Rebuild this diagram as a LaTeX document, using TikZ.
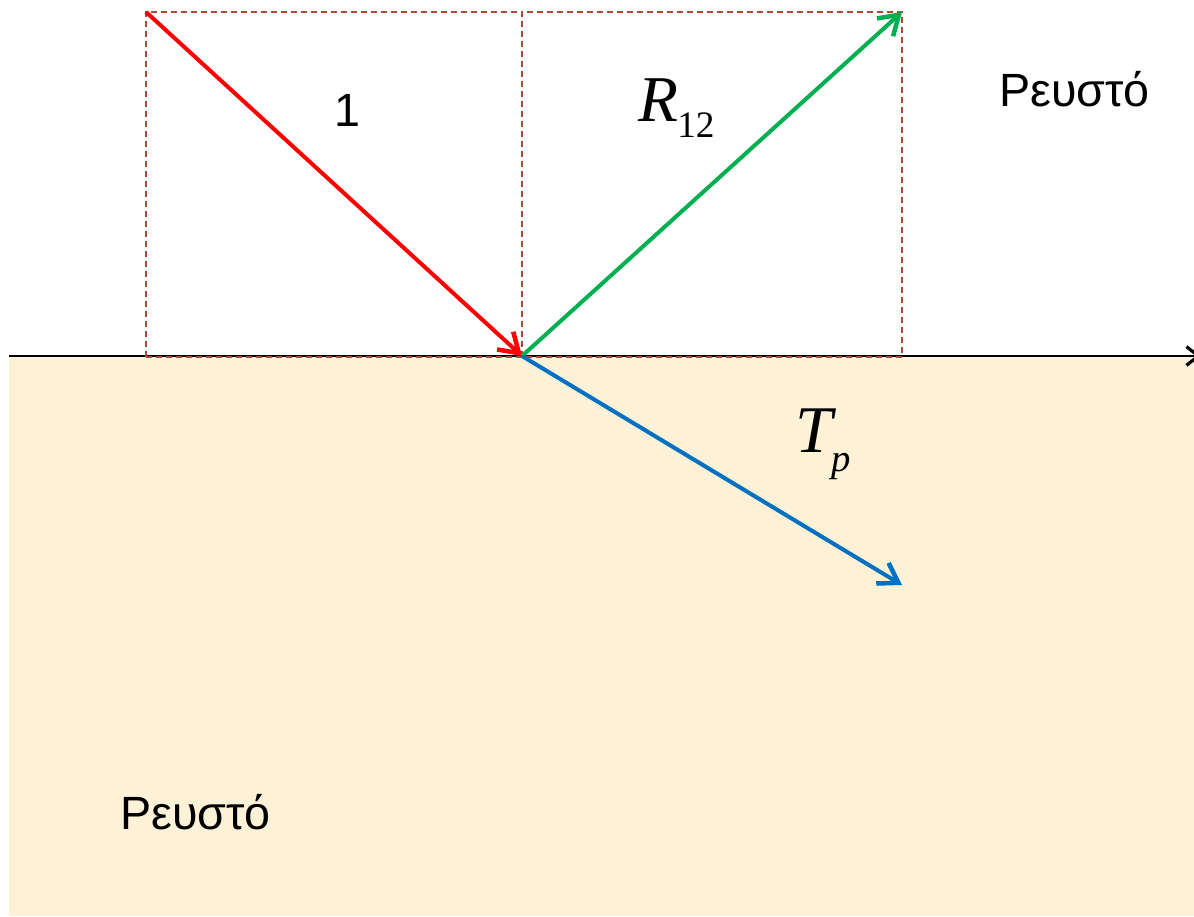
\documentclass[tikz,border=0pt]{standalone}
\usepackage{fontspec}
\setmainfont{Liberation Sans}
\newfontfamily\timesf{Liberation Serif}
\usetikzlibrary{arrows.meta}
\definecolor{beige}{RGB}{253,241,216}
\definecolor{boxbrown}{RGB}{168,74,52}
\definecolor{incred}{RGB}{255,0,0}
\definecolor{refgreen}{RGB}{0,176,80}
\definecolor{tranblue}{RGB}{0,112,192}
\tikzset{
  guide/.style={draw=boxbrown, line width=1.3pt, dash pattern=on 4.5pt off 3pt},
  ray/.style={line width=3pt, -{Straight Barb[length=14pt,width=18pt,line width=3.4pt]}},
  lbl/.style={inner sep=0pt, anchor=base west},
}
\begin{document}
\begin{tikzpicture}[x=0.75pt,y=-0.75pt]
\useasboundingbox (0,0) rectangle (1194,916);
\clip (0,0) rectangle (1194,916);
\fill[white] (0,0) rectangle (1194,916);
\fill[beige] (9,356) rectangle (1194,916);
\coordinate (O) at (522,356);
\coordinate (A) at (146,12);
\coordinate (B) at (902,12);
\coordinate (C) at (902,585);
\coordinate (L) at (9,356);
\coordinate (Rt) at (1201,356);
\coordinate (Ob) at (522,357);
\coordinate (Ab) at (146,357);
\coordinate (Bb) at (902,357);
\draw[line width=1.6pt, -{Straight Barb[length=9pt,width=14pt,line width=2.4pt]}] (L) -- (Rt);
\draw[guide] (Ab) -- (A) -- (522,12) -- (Ob);
\draw[guide] (Ob) -- (522,12) -- (B) -- (Bb);
\draw[guide] (Ab) -- (Bb);
\draw[ray, incred] (A) -- (O);
\draw[ray, refgreen] (O) -- (B);
\draw[ray, tranblue] (O) -- (C);
\node[lbl, font=\fontsize{35}{40}\selectfont] (one) at (334,127) {1};
\node[lbl, font=\timesf\itshape\fontsize{49}{55}\selectfont] (R) at (638,122) {R};
\node[lbl, font=\timesf\fontsize{28}{32}\selectfont] (R12) at (677,138) {12};
\node[lbl, font=\timesf\itshape\fontsize{50}{55}\selectfont] (T) at (795,452) {T};
\node[lbl, font=\timesf\itshape\fontsize{29}{32}\selectfont] (Tp) at (831,471) {p};
\node[lbl, font=\fontsize{35}{40}\selectfont] (f1) at (999,107) {Ρευστό};
\node[lbl, font=\fontsize{35}{40}\selectfont] (f2) at (120,829) {Ρευστό};
\end{tikzpicture}
\end{document}
